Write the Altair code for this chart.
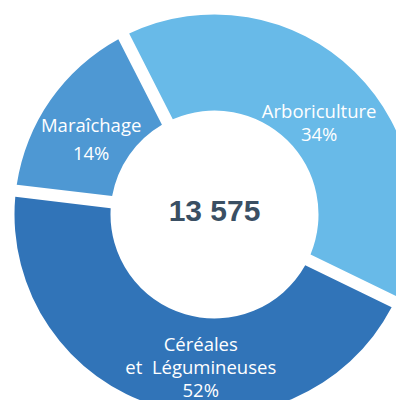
import altair as alt
import pandas as pd

categories = ["Arboriculture", "Céréales et Légumineuses", "Maraîchage"]
# arc shares as drawn in the picture (percent of the ring)
arc_share = [39.7, 44.7, 15.6]
pct_labels = ["34%", "52%", "14%"]
name_lines = ["Arboriculture", "Céréales\net\u00a0\u00a0Légumineuses", "Maraîchage"]
colors = ["#68BAE8", "#3174B8", "#4E98D3"]
total_label = "13 575"

df = pd.DataFrame({
    "category": categories,
    "share": arc_share,
    "order": [0, 1, 2],
    "label": [n + "\n" + p for n, p in zip(name_lines, pct_labels)],
})

start = -27 * 3.141592653589793 / 180
theta_scale = alt.Scale(range=[start, start + 2 * 3.141592653589793])
cx, cy = 206.5, 206.5

base = alt.Chart(df).encode(
    theta=alt.Theta("share:Q", stack=True, scale=theta_scale),
    order=alt.Order("order:Q"),
    x=alt.value(cx),
    y=alt.value(cy),
)

arcs = base.mark_arc(outerRadius=200, innerRadius=104, padAngle=0.054).encode(
    color=alt.Color("category:N", scale=alt.Scale(domain=categories, range=colors), legend=None)
)

def label_layer(cat, dx, dy, line_height):
    return base.mark_text(
        radius=148, dx=dx, dy=dy, lineBreak="\n", lineHeight=line_height,
        font="Open Sans", fontSize=18.5, color="white", align="center", baseline="middle",
    ).encode(
        text=alt.condition(alt.datum.category == cat, alt.Text("label:N"), alt.value(""))
    )

labels = [
    label_layer(categories[0], 1, 3, 23),
    label_layer(categories[1], 28, -11, 23),
    label_layer(categories[2], -2, -4, 28),
]

center = alt.Chart(pd.DataFrame({"t": [total_label]})).mark_text(
    font="Liberation Sans", fontWeight="bold", fontSize=30, color="#3A4F63",
    align="center", baseline="middle", dy=-3,
).encode(text="t:N", x=alt.value(cx), y=alt.value(cy))

chart = alt.layer(arcs, *labels, center).properties(
    width=388, height=392, padding=0
).configure_view(stroke=None).properties(autosize=alt.AutoSizeParams(type="none"))

chart.save("out.html", embed_options={"renderer": "svg", "actions": False})
